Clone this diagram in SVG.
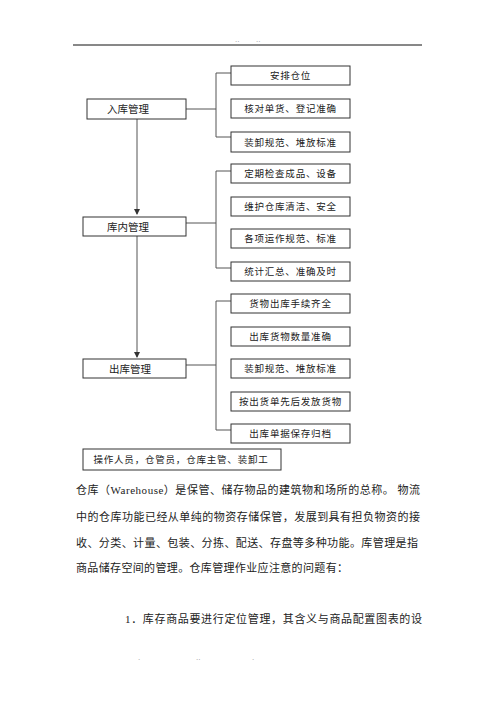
<svg xmlns="http://www.w3.org/2000/svg" width="496" height="702" viewBox="0 0 496 702">
<defs>
<style>
.box{fill:#fff;stroke:#333;stroke-width:1}
.ln{fill:none;stroke:#555;stroke-width:1}
.bt{font-family:"Liberation Sans","Noto Sans CJK SC",sans-serif;font-size:9.5px;letter-spacing:0.8px;fill:#222;text-anchor:middle}
.lt{font-family:"Liberation Sans","Noto Sans CJK SC",sans-serif;font-size:10.5px;fill:#222}
.pt{font-family:"Liberation Serif","Noto Sans CJK SC",serif;font-size:11px;fill:#222}
.dot{font-family:"Liberation Sans",sans-serif;font-size:8px;fill:#999}
</style>
<marker id="ah" markerWidth="6" markerHeight="6" refX="5" refY="3" orient="auto" markerUnits="userSpaceOnUse">
<path d="M0,0 L6,3 L0,6 z" fill="#333"/>
</marker>
</defs>
<rect width="496" height="702" fill="#fff"/>
<g id="header">
<line x1="73" y1="45" x2="422" y2="45" stroke="#111" stroke-width="1"/>
<text class="dot" x="235" y="42">..</text>
<text class="dot" x="256" y="42">..</text>
</g>
<g id="connectors">
<line class="ln" x1="137" y1="119" x2="137" y2="214" marker-end="url(#ah)"/>
<line class="ln" x1="137" y1="236" x2="137" y2="357" marker-end="url(#ah)"/>
<path class="ln" d="M186,109 H216 M231,73 H216 V137 H231"/>
<path class="ln" d="M186,223 H216 M231,171 H216 V268 H231"/>
<path class="ln" d="M186,365 H216 M231,301 H216 V430 H231"/>
</g>
<g id="n-ruku"><rect class="box" x="87" y="99" width="99" height="20"/><text class="lt" x="107" y="113">入库管理</text></g>
<g id="n-kunei"><rect class="box" x="83" y="217" width="103" height="19"/><text class="lt" x="107" y="231">库内管理</text></g>
<g id="n-chuku"><rect class="box" x="83" y="359" width="103" height="19"/><text class="lt" x="109" y="373">出库管理</text></g>
<g id="r1"><rect class="box" x="231" y="66" width="119" height="19"/><text class="bt" x="290.5" y="79">安排仓位</text></g>
<g id="r2"><rect class="box" x="231" y="99" width="119" height="19"/><text class="bt" x="290.5" y="112">核对单货、登记准确</text></g>
<g id="r3"><rect class="box" x="231" y="132" width="119" height="20"/><text class="bt" x="290.5" y="145.5">装卸规范、堆放标准</text></g>
<g id="k1"><rect class="box" x="231" y="164" width="119" height="19"/><text class="bt" x="290.5" y="177">定期检查成品、设备</text></g>
<g id="k2"><rect class="box" x="231" y="197" width="119" height="19"/><text class="bt" x="290.5" y="210">维护仓库清洁、安全</text></g>
<g id="k3"><rect class="box" x="231" y="229" width="119" height="19"/><text class="bt" x="290.5" y="242">各项运作规范、标准</text></g>
<g id="k4"><rect class="box" x="231" y="262" width="119" height="19"/><text class="bt" x="290.5" y="275">统计汇总、准确及时</text></g>
<g id="c1"><rect class="box" x="231" y="294" width="119" height="19"/><text class="bt" x="290.5" y="307">货物出库手续齐全</text></g>
<g id="c2"><rect class="box" x="231" y="327" width="119" height="19"/><text class="bt" x="290.5" y="340">出库货物数量准确</text></g>
<g id="c3"><rect class="box" x="231" y="359" width="119" height="19"/><text class="bt" x="290.5" y="372">装卸规范、堆放标准</text></g>
<g id="c4"><rect class="box" x="231" y="392" width="119" height="19"/><text class="bt" x="290.5" y="405">按出货单先后发放货物</text></g>
<g id="c5"><rect class="box" x="231" y="424" width="119" height="19"/><text class="bt" x="290.5" y="437">出库单据保存归档</text></g>
<g id="staff"><rect class="box" x="83" y="449" width="198" height="21"/><text class="bt" x="181" y="463">操作人员，仓管员，仓库主管、装卸工</text></g>
<g id="para">
<text class="pt" x="76" y="494" textLength="344" lengthAdjust="spacing">仓库（Warehouse）是保管、储存物品的建筑物和场所的总称。 物流</text>
<text class="pt" x="76" y="521" textLength="344" lengthAdjust="spacing">中的仓库功能已经从单纯的物资存储保管，发展到具有担负物资的接</text>
<text class="pt" x="76" y="547" textLength="342" lengthAdjust="spacing">收、分类、计量、包装、分拣、配送、存盘等多种功能。库管理是指</text>
<text class="pt" x="76" y="572" textLength="272" lengthAdjust="spacing">商品储存空间的管理。仓库管理作业应注意的问题有：</text>
<text class="pt" x="125" y="623" textLength="297" lengthAdjust="spacing">1．库存商品要进行定位管理，其含义与商品配置图表的设</text>
</g>
<g id="footer">
<text class="dot" x="138" y="660">.</text>
<text class="dot" x="196" y="660">..</text>
<text class="dot" x="252" y="660">.</text>
</g>
</svg>
